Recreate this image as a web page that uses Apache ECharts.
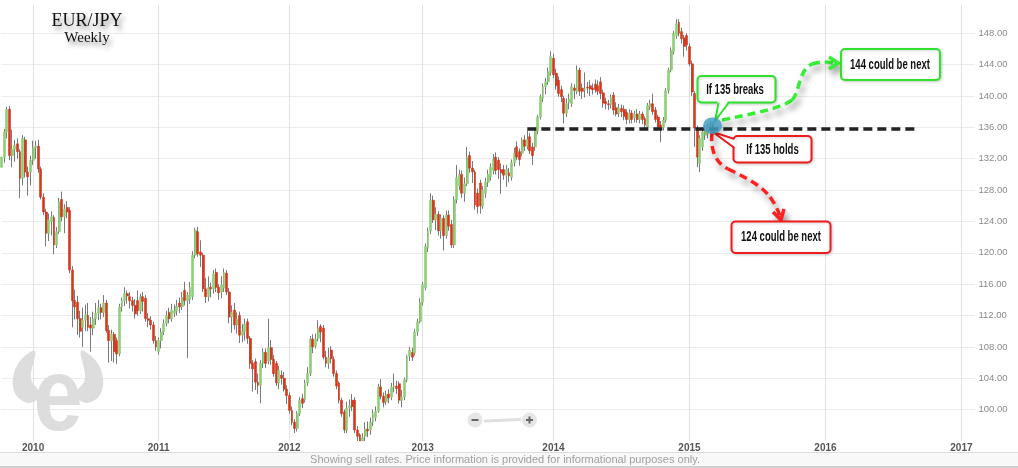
<!DOCTYPE html>
<html><head><meta charset="utf-8">
<script src="https://cdn.jsdelivr.net/npm/echarts@6.0.0/dist/echarts.min.js"></script>
<style>html,body{margin:0;padding:0;background:#fff;}#c{width:1018px;height:468px;}</style>
</head><body><div id="c"></div>
<script>
// Weekly EUR/JPY candles, each [open, close, low, high]
const ohlc2009 = [[130.9,132.2,129.6,133.1],[132.2,135.4,131.5,135.8],[135.4,138.3,134.6,138.6],[138.3,132.4,131.8,138.7],[132.4,133.2,130.9,135.7],[133.2,133.7,131.6,134.4],[133.9,132.9,132.0,134.6],[132.9,129.5,127.0,133.2],[129.5,134.6,128.6,135.0],[134.4,130.3,129.6,134.8],[130.3,129.7,127.3,131.0],[130.3,131.8,128.6,132.4]];
const ohlc2010 = [[131.8,133.4,131.2,134.3],[133.4,133.6,132.0,134.3],[133.6,130.7,130.2,134.4],[130.7,127.1,126.8,131.0],[127.1,125.2,124.8,127.6],[125.2,122.5,120.8,125.6],[122.5,124.2,121.5,125.0],[124.0,124.6,122.2,125.3],[124.5,121.0,119.8,124.8],[121.0,122.7,120.6,123.3],[122.7,126.5,122.4,127.0],[126.8,124.6,124.0,127.8],[124.6,125.6,122.5,126.2],[125.8,125.2,124.4,126.6],[125.4,117.8,117.4,125.8],[117.8,113.9,110.5,118.3],[113.9,113.1,111.5,115.3],[113.7,111.6,109.5,114.5],[111.6,110.0,109.2,112.6],[110.5,111.4,108.0,113.0],[111.4,112.1,110.0,113.4],[112.0,110.5,110.0,113.6],[110.8,110.4,107.4,111.8],[110.4,111.6,109.5,112.5],[111.6,112.3,110.8,113.6],[112.3,113.0,111.4,114.0],[113.0,112.4,111.5,113.5],[112.4,113.6,111.8,114.6],[113.6,110.1,109.8,114.0],[110.1,108.8,106.0,110.8],[108.8,109.6,106.2,110.2],[109.6,107.4,106.0,109.9],[108.8,107.1,105.8,109.2],[107.1,113.1,106.8,113.5],[113.1,113.9,112.5,114.3],[113.9,114.8,113.2,115.6],[114.8,114.5,113.5,115.2],[114.4,113.9,112.9,115.0],[113.9,113.3,112.5,114.4],[113.3,112.2,111.6,114.1],[113.9,112.6,112.0,115.2],[112.6,114.4,112.2,114.8],[114.4,113.8,112.5,115.0],[114.2,111.6,111.2,114.6],[111.6,111.4,110.5,112.3],[111.4,110.8,110.2,111.9],[110.8,108.8,108.4,111.2],[108.8,108.0,107.5,109.4]];
const ohlc2011 = [[107.4,108.8,107.0,109.2],[108.8,109.9,107.8,110.4],[109.9,111.0,109.5,111.5],[111.0,112.0,110.6,112.6],[112.4,111.6,111.0,113.0],[111.6,112.7,111.2,113.5],[112.3,112.6,111.8,113.4],[112.6,113.2,112.0,114.0],[113.6,113.1,112.3,114.3],[113.1,114.3,112.7,115.0],[115.2,113.9,113.3,116.3],[113.9,114.6,106.6,115.0],[114.0,115.6,113.5,116.3],[114.4,119.7,114.0,120.2],[119.7,122.9,119.3,123.2],[122.7,119.9,119.5,123.3],[120.1,119.7,118.2,121.6],[119.7,115.4,115.0,120.0],[115.4,114.4,113.6,116.8],[114.4,115.6,113.8,117.0],[115.6,115.4,114.3,116.2],[115.4,117.3,114.8,117.8],[117.5,115.6,115.0,118.0],[115.6,114.9,114.0,116.0],[115.0,115.9,114.2,117.0],[115.5,117.5,115.0,118.0],[117.4,115.0,114.6,117.8],[115.0,111.8,111.0,115.5],[111.8,112.4,109.8,113.3],[112.7,110.8,110.2,113.6],[110.8,111.5,109.7,112.4],[112.0,109.5,108.5,112.5],[109.5,110.0,108.6,110.9],[110.0,110.9,108.8,111.6],[111.2,109.1,108.4,111.6],[109.1,105.9,105.2,109.4],[105.9,105.2,102.3,106.3],[106.1,103.5,102.5,106.5],[103.5,103.1,102.0,104.6],[103.1,105.9,100.8,106.3],[105.9,107.3,105.3,107.8],[107.3,105.9,105.3,107.8],[106.2,107.9,105.8,111.6],[107.9,106.4,105.7,108.9],[106.4,104.6,104.2,107.0],[105.9,103.4,103.0,106.2],[103.4,105.0,102.6,105.6],[104.4,104.0,103.2,105.0],[104.0,102.6,102.3,104.8],[102.6,101.8,100.7,103.1]];
const ohlc2012 = [[101.8,99.9,99.5,102.2],[99.9,98.4,98.0,100.4],[98.4,97.6,97.0,98.8],[97.6,99.5,97.2,99.8],[99.5,101.2,99.2,101.6],[101.4,100.8,100.2,102.0],[101.2,103.4,100.9,103.8],[103.4,104.6,103.0,105.4],[104.6,109.0,104.3,109.4],[109.0,108.0,107.2,109.6],[108.1,109.0,107.8,109.7],[109.1,110.4,108.7,111.4],[110.6,109.9,108.6,110.9],[110.4,106.7,106.4,110.8],[106.7,105.9,105.4,107.5],[105.9,106.6,105.2,107.9],[107.6,106.5,105.9,108.1],[106.4,104.6,104.2,106.8],[104.6,103.0,102.6,105.0],[103.4,101.2,100.8,103.6],[101.2,99.5,99.1,101.5],[99.7,97.4,97.0,100.0],[97.4,100.2,97.0,101.0],[100.2,100.5,99.1,101.3],[101.2,100.4,99.8,102.0],[101.2,97.4,97.0,101.6],[97.4,96.6,95.8,97.9],[96.8,95.6,94.2,97.0],[95.6,96.4,94.1,97.0],[96.6,97.5,95.8,98.4],[97.5,97.3,96.5,98.5],[97.4,98.4,96.8,99.0],[98.4,99.5,97.9,100.0],[99.0,99.8,98.5,100.4],[99.8,102.9,99.6,103.3],[102.9,101.7,101.3,103.9],[101.7,100.9,100.3,102.2],[101.0,101.9,100.6,102.4],[102.0,101.5,100.8,102.6],[101.6,102.9,101.2,103.4],[102.9,103.0,102.2,104.6],[103.0,102.7,102.0,103.7],[103.3,101.2,100.8,103.6],[101.2,101.6,100.3,102.5],[101.6,103.8,101.2,104.1],[103.8,106.8,103.5,107.0],[106.8,107.6,106.2,108.0],[107.3,106.7,106.2,107.9],[107.2,109.9,106.9,110.3],[109.9,111.2,109.4,111.6],[111.2,113.7,111.0,114.2]];
const ohlc2013 = [[113.7,115.9,113.3,116.3],[115.5,120.8,115.2,121.2],[120.6,122.8,120.1,123.2],[122.8,126.7,122.4,127.6],[126.7,124.2,123.8,127.3],[124.2,124.9,122.9,125.8],[124.9,122.8,122.2,125.3],[122.8,124.4,121.8,124.9],[124.4,122.2,120.3,124.8],[122.2,124.8,121.8,125.4],[124.8,123.4,122.8,125.4],[123.6,121.0,120.6,124.2],[121.0,126.8,120.6,127.2],[126.8,129.6,126.3,131.2],[128.5,130.0,128.0,130.6],[130.0,127.6,127.0,130.5],[127.6,128.8,126.5,129.6],[128.8,132.2,128.5,133.5],[132.4,130.8,130.2,132.9],[130.8,130.3,128.9,131.7],[130.3,126.1,125.5,130.6],[127.6,125.9,125.0,128.2],[128.9,126.0,125.0,129.3],[126.0,128.0,125.6,128.5],[127.6,129.0,127.0,129.6],[129.0,130.0,128.4,130.6],[129.7,130.9,129.2,131.4],[130.5,131.9,130.0,132.6],[132.2,130.5,130.0,132.8],[131.8,130.6,129.4,132.2],[130.6,130.2,127.5,131.4],[130.6,129.9,129.3,131.2],[129.9,130.6,128.4,131.2],[130.2,129.8,129.0,130.8],[129.6,131.5,129.2,131.9],[131.5,132.7,131.0,133.4],[133.5,132.2,131.8,134.2],[132.9,131.9,131.1,133.3],[132.7,134.4,132.3,134.7],[134.4,133.6,133.0,135.0],[133.6,134.4,133.2,135.6],[134.8,133.0,132.6,135.3],[133.5,132.4,131.2,134.0],[133.5,135.6,133.0,136.0],[135.6,137.3,135.1,137.6],[137.3,139.9,137.0,140.2],[139.7,141.2,139.2,141.6],[141.2,141.8,140.2,142.3],[141.8,143.1,141.4,143.6],[143.0,145.0,142.6,145.7]];
const ohlc2014 = [[144.8,142.7,142.3,145.4],[142.9,141.3,140.8,143.5],[142.0,140.3,139.9,142.5],[140.8,139.9,139.2,141.3],[139.7,137.8,136.5,140.0],[137.8,139.0,137.3,139.7],[139.2,139.6,138.3,140.3],[139.0,141.2,138.6,141.6],[141.0,140.7,139.6,141.5],[140.5,143.3,140.2,143.9],[143.3,140.6,140.0,143.6],[141.0,140.6,139.6,141.6],[140.8,140.9,139.8,143.0],[141.1,141.0,140.3,141.8],[141.3,140.9,140.0,142.0],[141.0,140.8,140.2,141.6],[141.5,140.8,140.4,142.1],[141.3,140.6,140.1,142.0],[141.8,140.3,139.6,142.4],[140.4,139.1,138.5,140.8],[139.3,139.0,138.3,139.8],[139.0,138.9,138.2,139.5],[138.9,139.8,138.4,140.2],[140.1,138.2,137.6,140.5],[138.5,137.7,137.4,139.2],[137.8,138.5,137.3,139.0],[138.4,138.0,137.3,138.9],[138.3,137.4,136.9,138.8],[137.9,137.0,136.4,138.3],[137.0,137.8,136.5,138.3],[137.8,137.0,136.5,138.2],[137.2,137.7,136.6,138.1],[137.7,137.0,136.6,138.3],[137.0,137.7,136.5,138.1],[137.7,137.0,136.4,138.0],[137.1,136.3,135.8,137.4],[136.0,138.8,135.8,139.1],[138.6,139.0,138.2,139.5],[139.0,138.0,137.6,140.3],[138.2,137.0,136.6,138.6],[137.3,136.0,135.8,137.6],[136.3,136.0,134.1,136.8],[136.0,136.9,135.6,137.3],[136.9,140.7,136.6,141.0],[140.7,143.3,140.3,143.6],[143.3,145.8,143.0,146.2],[145.6,148.0,145.3,148.3],[147.7,149.2,147.3,149.8],[149.4,148.0,147.6,149.8],[148.2,147.3,146.7,148.7],[147.4,146.3,145.0,147.8],[147.7,146.5,145.8,148.0]];
const ohlc2015 = [[146.3,144.1,143.8,146.7],[144.1,140.5,140.0,144.5],[140.3,135.9,133.5,140.6],[135.9,132.2,130.9,136.2],[131.4,134.6,130.3,135.0],[133.5,135.4,133.0,136.0],[135.0,135.6,134.4,136.3],[135.2,136.0,134.6,136.6],[135.7,136.4,135.1,136.8],[136.2,135.8,135.2,136.6]];

const dataYears = ['2009','2010','2011','2012','2013','2014','2015'];
const dataByYear = [ohlc2009, ohlc2010, ohlc2011, ohlc2012, ohlc2013, ohlc2014, ohlc2015];
const futureYears = ['2015','2016','2017'];
const futureWeeks = [42, 52, 6];

const levelPrice = 135.82;      // horizontal support/resistance
const levelFromIdx = 201, levelToIdx = 349;
const lastPriceText = '135.82';
const footerText = 'Showing sell rates. Price information is provided for informational purposes only.';
const yMin = 96, yMax = 151.6, yStep = 4;

// ---- build category axis & series data ----
const categories = [];
const ohlc = [];
dataByYear.forEach((arr, i) => { arr.forEach(d => { categories.push(dataYears[i]); ohlc.push(d); }); });
futureYears.forEach((y, i) => { for (let k = 0; k < futureWeeks[i]; k++) categories.push(y); });
// the plot area cuts off prices below its bottom edge
const clampY = v => Math.max(v, yMin);
const wicks = ohlc.map(d => [clampY(d[0]), clampY(d[1]), clampY(d[2]), d[3]]);
const bodies = ohlc.map(d => {
  const o = clampY(d[0]), c = clampY(d[1]);
  return [o, c, Math.min(o, c), Math.max(o, c)];
});
const isYearStart = (idx) => idx > 0 && categories[idx] !== categories[idx - 1];

const GREEN = '#8fcd78', RED = '#d3381c', WICK = '#7a7a7a';
const splitColors = ['rgba(0,0,0,0)'];
for (let i = 0; i < 13; i++) splitColors.push('#ececec');
splitColors.push('rgba(0,0,0,0)');

const chart = echarts.init(document.getElementById('c'), null, {renderer: 'canvas'});

const txtFont = 'bold 14px "Liberation Sans", Arial, sans-serif';
function calloutText(x, y, t) {
  return {type: 'text', z: 110, silent: true, x: x, y: y, scaleX: 0.68,
    style: {text: t, font: txtFont, fill: '#111', align: 'center', verticalAlign: 'middle'}};
}
function box(x, y, w, h, color) {
  return {type: 'rect', z: 105, silent: true, shape: {x: x, y: y, width: w, height: h, r: 4},
    style: {fill: '#fff', stroke: color, lineWidth: 2, shadowBlur: 3, shadowColor: 'rgba(0,0,0,0.18)', shadowOffsetX: 1, shadowOffsetY: 1}};
}
function curve(p, color) {
  return {type: 'bezierCurve', z: 103, silent: true,
    shape: {x1: p[0], y1: p[1], cpx1: p[2], cpy1: p[3], cpx2: p[4], cpy2: p[5], x2: p[6], y2: p[7]},
    style: Object.assign({fill: null, stroke: color, lineWidth: 3.5, lineDash: [8, 5]}, shadow)};
}
const G = '#2fe02f', R = '#ee1c1c';
const shadow = {shadowBlur: 6, shadowColor: 'rgba(0,0,0,0.45)', shadowOffsetX: 3, shadowOffsetY: 5};

const graphics = [
  // watermark logo
  {type: 'polygon', z: 1, silent: true, shape: {smooth: 0.35, points: [[35,351],[20,361],[13,378],[16,395],[29,403],[41,395],[31,379]]}, style: {fill: '#dddddd'}},
  {type: 'polygon', z: 1, silent: true, shape: {smooth: 0.35, points: [[81,351],[96,361],[103,378],[100,395],[87,403],[75,395],[85,379]]}, style: {fill: '#dddddd'}},
  {type: 'text', z: 1, silent: true, x: 58, y: 401, scaleX: 0.85,
    style: {text: 'e', font: 'bold 104px "Liberation Sans", Arial, sans-serif', fill: '#dddddd', align: 'center', verticalAlign: 'middle'}},
  // title
  {type: 'text', z: 110, silent: true, x: 87, y: 21,
    style: {text: 'EUR/JPY', font: '18px "Liberation Serif", "Times New Roman", serif', fill: '#111', align: 'center', verticalAlign: 'middle',
      textShadowBlur: 5, textShadowColor: 'rgba(0,0,0,0.45)', textShadowOffsetX: 3, textShadowOffsetY: 4}},
  {type: 'text', z: 110, silent: true, x: 87, y: 38.5,
    style: {text: 'Weekly', font: '15px "Liberation Serif", "Times New Roman", serif', fill: '#111', align: 'center', verticalAlign: 'middle',
      textShadowBlur: 5, textShadowColor: 'rgba(0,0,0,0.45)', textShadowOffsetX: 3, textShadowOffsetY: 4}},
  // footer
  {type: 'rect', z: 100, silent: true, shape: {x: 0, y: 452, width: 1018, height: 16}, style: {fill: '#f8f8f8'}},
  {type: 'line', z: 101, silent: true, shape: {x1: 0, y1: 452.5, x2: 1018, y2: 452.5}, style: {stroke: '#dddddd', lineWidth: 1}},
  {type: 'rect', z: 101, silent: true, shape: {x: 0, y: 466, width: 1018, height: 2}, style: {fill: '#cfcfcf'}},
  {type: 'text', z: 102, silent: true, x: 505, y: 460,
    style: {text: footerText, font: '11px "Liberation Sans", Arial, sans-serif', fill: '#a0a0a0', align: 'center', verticalAlign: 'middle'}},
  // zoom control
  {type: 'line', z: 100, silent: true, shape: {x1: 485, y1: 421, x2: 520, y2: 419.5}, style: {stroke: '#e0e0e0', lineWidth: 3, lineCap: 'round'}},
  {type: 'circle', z: 100, silent: true, shape: {cx: 475, cy: 420, r: 7.5}, style: {fill: '#e6e6e6'}},
  {type: 'circle', z: 100, silent: true, shape: {cx: 529.5, cy: 420, r: 7.5}, style: {fill: '#e6e6e6'}},
  {type: 'rect', z: 101, silent: true, shape: {x: 471.5, y: 419, width: 7, height: 2}, style: {fill: '#666'}},
  {type: 'rect', z: 101, silent: true, shape: {x: 526, y: 419, width: 7, height: 2}, style: {fill: '#666'}},
  {type: 'rect', z: 101, silent: true, shape: {x: 528.5, y: 416.5, width: 2, height: 7}, style: {fill: '#666'}},
  // dashed curved arrows
  curve([722,120, 752,114, 782,108, 792,100], '#33ee33'),
  curve([792,100, 800,93, 798,70, 812,64], '#33ee33'),
  curve([812,64, 820,61, 828,62, 835,63], '#33ee33'),
  {type: 'polyline', z: 103, silent: true, shape: {points: [[829, 57], [838, 63], [829, 69]]},
    style: Object.assign({fill: null, stroke: '#33ee33', lineWidth: 3.5}, shadow)},
  curve([712,133, 710,150, 716,163, 728,169], '#ff2020'),
  curve([728,169, 745,177, 762,186, 770,197], '#ff2020'),
  curve([770,197, 775,204, 778,210, 780,216], '#ff2020'),
  {type: 'polyline', z: 103, silent: true, shape: {points: [[773, 212], [781, 220], [784, 209]]},
    style: Object.assign({fill: null, stroke: '#ff2020', lineWidth: 3.5}, shadow)},
  // callout boxes
  box(697.5, 76, 78, 26.5, G),
  {type: 'polygon', z: 106, silent: true, shape: {points: [[718, 100], [729, 100], [715, 121]]}, style: {fill: '#fff'}},
  {type: 'polyline', z: 106, silent: true, shape: {points: [[718.5, 103], [715, 121], [728.5, 103]]}, style: {fill: null, stroke: G, lineWidth: 2}},
  calloutText(735, 90, 'If 135 breaks'),
  box(841, 49, 99, 31, G),
  calloutText(890, 65, '144 could be next'),
  box(733.5, 136, 78, 26.5, R),
  {type: 'polygon', z: 106, silent: true, shape: {points: [[735.5, 139], [735.5, 148], [713, 132]]}, style: {fill: '#fff'}},
  {type: 'polyline', z: 106, silent: true, shape: {points: [[734.5, 139], [713, 132], [734.5, 148]]}, style: {fill: null, stroke: R, lineWidth: 2}},
  calloutText(772.5, 150, 'If 135 holds'),
  box(731.5, 221.5, 99, 31.5, R),
  calloutText(781, 237.5, '124 could be next'),
  // highlight circle (ellipse via scaled circle)
  {type: 'circle', z: 108, silent: true, x: 712.5, y: 125.7, scaleY: 0.87, shape: {cx: 0, cy: 0, r: 9.5},
    style: {fill: 'rgba(66,160,200,0.82)', shadowBlur: 6, shadowColor: 'rgba(0,0,0,0.35)', shadowOffsetX: 2, shadowOffsetY: 2}}
];

const option = {
  animation: false,
  backgroundColor: '#ffffff',
  grid: {left: 1.7, right: 43.5, top: 5, bottom: 27, containLabel: false, outerBoundsMode: 'none'},
  xAxis: {
    type: 'category', data: categories, boundaryGap: false,
    axisLine: {show: false}, axisTick: {show: false},
    axisLabel: {interval: isYearStart, color: '#555', fontSize: 10, fontWeight: 'bold', fontFamily: '"Liberation Sans", Arial, sans-serif', margin: 2},
    splitLine: {show: true, interval: isYearStart, lineStyle: {color: '#e2e2e2', width: 1}}
  },
  yAxis: {
    type: 'value', position: 'right', min: yMin, max: yMax, interval: yStep, scale: true,
    axisLine: {show: false}, axisTick: {show: false},
    axisLabel: {color: '#8a8a8a', fontSize: 9.5, fontFamily: '"Liberation Sans", Arial, sans-serif', margin: 4,
      showMinLabel: false, showMaxLabel: false, formatter: v => v.toFixed(2)},
    splitLine: {show: true, lineStyle: {color: splitColors, width: 1}}
  },
  series: [
    {
      name: 'wick', type: 'candlestick', data: wicks, barWidth: 1, clip: true, silent: true, z: 2,
      itemStyle: {color: WICK, color0: WICK, borderColor: WICK, borderColor0: WICK, borderColorDoji: WICK, borderWidth: 1},
      emphasis: {disabled: true}
    },
    {
      name: 'body', type: 'candlestick', data: bodies, barWidth: 2.4, clip: true, silent: true, z: 3,
      itemStyle: {color: GREEN, color0: RED, borderColor: GREEN, borderColor0: RED, borderColorDoji: RED, borderWidth: 0.6},
      emphasis: {disabled: true},
      markLine: {
        silent: true, symbol: ['none', 'none'], animation: false,
        label: {show: false},
        data: [
          [{coord: [levelFromIdx, levelPrice], lineStyle: {color: '#222', width: 3.5, type: [9, 5]}},
           {coord: [levelToIdx, levelPrice]}],
          {yAxis: levelPrice, lineStyle: {opacity: 0, width: 0},
            label: {show: true, position: 'end', formatter: lastPriceText, distance: 3,
              backgroundColor: '#8dc97b', color: '#fff', fontSize: 9, fontFamily: '"Liberation Sans", Arial, sans-serif',
              padding: [2, 2, 1, 2], borderRadius: 2}}
        ]
      }
    }
  ],
  graphic: graphics
};
chart.setOption(option);
</script>
</body></html>
